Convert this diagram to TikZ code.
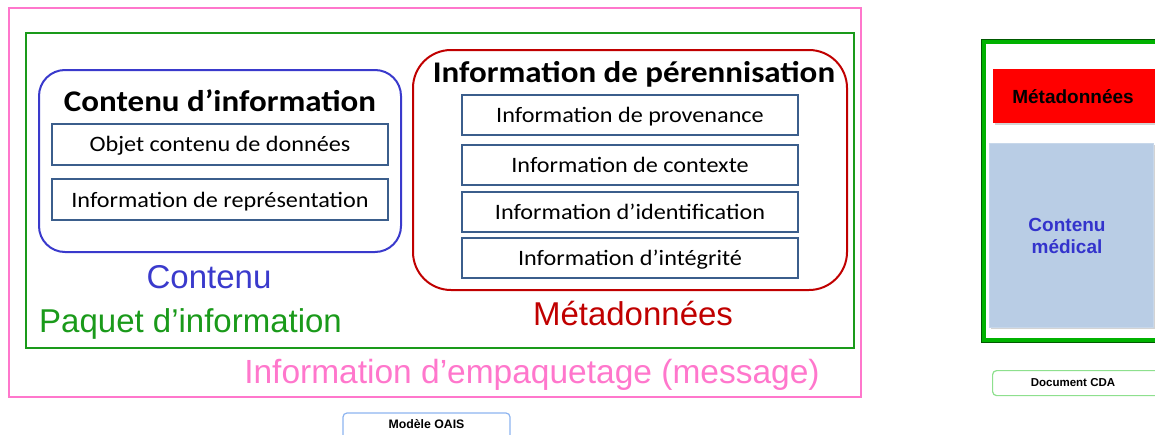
\documentclass[tikz,border=0pt]{standalone}
\usepackage{fontspec}
\setmainfont{Carlito}[FakeStretch=1.1]
\newfontfamily\arialfont{Liberation Sans}
\usetikzlibrary{shadows}
\definecolor{pinkline}{HTML}{FF77CC}
\definecolor{greenline}{HTML}{1A9A1A}
\definecolor{blueline}{HTML}{3A3ACC}
\definecolor{redline}{HTML}{C00000}
\definecolor{boxline}{HTML}{3B5E8C}
\definecolor{cdablue}{HTML}{B9CDE5}
\definecolor{cdatext}{HTML}{3333CC}
\definecolor{tagblue}{HTML}{8DB4F0}
\definecolor{taggreen}{HTML}{8EE08E}
\tikzset{
  frame/.style={draw, line width=2pt, inner sep=0pt, minimum width=#1},
  infobox/.style={draw=boxline, line width=2pt, fill=white, inner sep=0pt,
    minimum width=336pt, minimum height=41pt, text height=17pt, text depth=2pt,
    font=\fontsize{22}{26}\selectfont},
  heading/.style={font=\fontsize{30}{36}\selectfont\bfseries, inner sep=0pt, anchor=base},
  biglabel/.style={font=\arialfont\fontsize{33}{38}\selectfont, inner sep=0pt, anchor=base},
  tag/.style={draw, line width=1.2pt, rounded corners=4pt, fill=white, inner sep=0pt,
    font=\arialfont\bfseries\fontsize{12.3}{14}\selectfont},
}
\begin{document}
\begin{tikzpicture}[x=1pt,y=-1pt]
\useasboundingbox (0,0) rectangle (1155,434);
\clip (0,0) rectangle (1155,434);

% OAIS model: nested packages
\node[frame=852pt, draw=pinkline, minimum height=389pt] (pkgmsg) at (434.5,202.5) {};
\node[frame=828pt, draw=greenline, minimum height=315pt, line width=2.5pt] (pkginfo) at (440,190.5) {};

\node[frame=362pt, draw=blueline, minimum height=182pt, rounded corners=26pt] (content) at (220,161) {};
\node[heading] (contenthead) at (220,111) {Contenu d’information};
\node[infobox] (dataobj) at (220,144) {Objet contenu de données};
\node[infobox] (repinfo) at (220,199.5) {Information de représentation};

\node[frame=434pt, draw=redline, minimum height=240pt, rounded corners=38pt] (pdi) at (630,170) {};
\node[heading] (pdihead) at (634,82) {Information de pérennisation};
\node[infobox, minimum height=40pt] (prov) at (630,115) {Information de provenance};
\node[infobox, minimum height=40pt] (ctx) at (630,165) {Information de contexte};
\node[infobox, minimum height=40pt] (ident) at (630,212) {Information d’identification};
\node[infobox, minimum height=40pt] (integ) at (630,258) {Information d’intégrité};

\node[biglabel, text=blueline] (lblcontent) at (209,288) {Contenu};
\node[biglabel, text=greenline, anchor=base west] (lblpkg) at (39,332) {Paquet d’information};
\node[biglabel, text=redline] (lblmeta) at (633,325) {Métadonnées};
\node[biglabel, text=pinkline, font=\arialfont\fontsize{33.5}{40}\selectfont] (lblmsg) at (532,383) {Information d’empaquetage (message)};

\node[tag, draw=tagblue, minimum width=167pt, minimum height=32pt, text depth=10pt] (oais) at (426.5,429) {Modèle OAIS};

% CDA document
\draw[line width=4pt, draw=green!70!black] (984,42) rectangle (1170,340);
\draw[line width=1.2pt, draw=green!35!black] (981.5,39.5) rectangle (1172,342.5);
\node[fill=red, inner sep=0pt, minimum width=172pt, minimum height=54pt, anchor=north west,
  drop shadow={shadow xshift=1.5pt, shadow yshift=-2pt, opacity=0.35}] (cdameta) at (993,69) {};
\node[font=\arialfont\bfseries\fontsize{19}{22}\selectfont, inner sep=0pt] (cdametatext) at (1073,97) {Métadonnées};
\node[fill=cdablue, draw=cdablue!80!white, inner sep=0pt, minimum width=164pt, minimum height=184pt,
  anchor=north west, drop shadow={shadow xshift=1.5pt, shadow yshift=-2pt, opacity=0.35}] (cdabody) at (989,143) {};
\node[font=\arialfont\bfseries\fontsize{19}{22}\selectfont, text=cdatext, align=center, inner sep=0pt]
  (cdabodytext) at (1067,236) {Contenu\\ médical};
\node[tag, draw=taggreen, minimum width=175pt, minimum height=25pt, anchor=north west] (cdatag) at (992,370) {};
\node[font=\arialfont\bfseries\fontsize{11.5}{13}\selectfont, inner sep=0pt] (cdatagtext) at (1073,383) {Document CDA};
\end{tikzpicture}
\end{document}
